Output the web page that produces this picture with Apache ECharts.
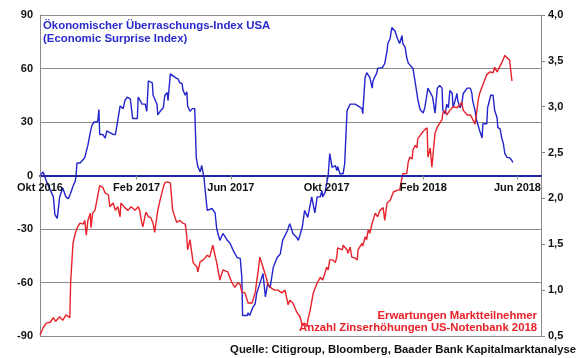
<!DOCTYPE html>
<html>
<head>
<meta charset="utf-8">
<script src="https://cdn.jsdelivr.net/npm/echarts@6/dist/echarts.min.js"></script>
<style>
html,body{margin:0;padding:0;background:#fff;}
#c{width:580px;height:358px;}
</style>
</head>
<body>
<div id="c"></div>
<script>
// Economic Surprise Index USA (left axis)
var surpriseDates = ['2016-10-02','2016-10-05','2016-10-09','2016-10-11','2016-10-14','2016-10-18','2016-10-20','2016-10-23','2016-10-24','2016-10-26','2016-10-30','2016-11-03','2016-11-06','2016-11-09','2016-11-12','2016-11-15','2016-11-16','2016-11-17','2016-11-21','2016-11-23','2016-11-27','2016-12-01','2016-12-04','2016-12-06','2016-12-09','2016-12-13','2016-12-14','2016-12-15','2016-12-16','2016-12-20','2016-12-23','2016-12-25','2016-12-29','2017-01-02','2017-01-05','2017-01-07','2017-01-08','2017-01-11','2017-01-13','2017-01-15','2017-01-17','2017-01-20','2017-01-24','2017-01-26','2017-01-27','2017-02-02','2017-02-03','2017-02-05','2017-02-08','2017-02-12','2017-02-14','2017-02-16','2017-02-21','2017-02-22','2017-02-24','2017-02-27','2017-02-28','2017-03-03','2017-03-07','2017-03-09','2017-03-12','2017-03-13','2017-03-16','2017-03-18','2017-03-22','2017-03-26','2017-03-28','2017-03-31','2017-04-01','2017-04-04','2017-04-06','2017-04-07','2017-04-10','2017-04-13','2017-04-16','2017-04-18','2017-04-20','2017-04-23','2017-04-25','2017-04-27','2017-04-28','2017-04-29','2017-05-02','2017-05-03','2017-05-08','2017-05-12','2017-05-14','2017-05-18','2017-05-22','2017-05-27','2017-05-31','2017-06-04','2017-06-09','2017-06-13','2017-06-15','2017-06-16','2017-06-22','2017-06-23','2017-06-25','2017-06-29','2017-07-02','2017-07-04','2017-07-08','2017-07-12','2017-07-15','2017-07-18','2017-07-21','2017-07-25','2017-07-30','2017-08-03','2017-08-06','2017-08-12','2017-08-15','2017-08-18','2017-08-19','2017-08-24','2017-08-26','2017-08-31','2017-09-03','2017-09-07','2017-09-12','2017-09-16','2017-09-19','2017-09-23','2017-09-25','2017-09-26','2017-09-29','2017-10-01','2017-10-03','2017-10-05','2017-10-08','2017-10-12','2017-10-14','2017-10-15','2017-10-18','2017-10-22','2017-10-24','2017-10-27','2017-10-31','2017-11-06','2017-11-10','2017-11-15','2017-11-16','2017-11-19','2017-11-21','2017-11-25','2017-11-28','2017-11-29','2017-12-04','2017-12-05','2017-12-11','2017-12-14','2017-12-17','2017-12-18','2017-12-21','2017-12-23','2017-12-25','2017-12-27','2017-12-30','2018-01-02','2018-01-05','2018-01-06','2018-01-09','2018-01-11','2018-01-13','2018-01-15','2018-01-19','2018-01-22','2018-01-24','2018-01-25','2018-01-28','2018-02-01','2018-02-03','2018-02-06','2018-02-07','2018-02-10','2018-02-12','2018-02-13','2018-02-16','2018-02-19','2018-02-22','2018-02-25','2018-02-26','2018-03-01','2018-03-03','2018-03-05','2018-03-07','2018-03-10','2018-03-11','2018-03-13','2018-03-16','2018-03-17','2018-03-20','2018-03-22','2018-03-24','2018-03-29','2018-04-02','2018-04-04','2018-04-05','2018-04-08','2018-04-10','2018-04-12','2018-04-14','2018-04-17','2018-04-18','2018-04-23','2018-04-24','2018-04-28','2018-05-01','2018-05-03','2018-05-06','2018-05-07','2018-05-10','2018-05-12','2018-05-14','2018-05-16','2018-05-19','2018-05-22','2018-05-25','2018-05-26'];
var surpriseValues = [0.5,2,-3,-5,-8,-12,-22,-24,-23,-12,-7,-12,-13,-10,-6,-3,0,7,7,8,10,17,24,28,30,30,32,37,23,23,21,25,24,23,23,28,27,39,40,37.5,42,44,43,42,32,32,44,44,40,40,36,53,52,45,44,40,34,36,38,45,46.5,42,57,56,55,54,52,51.5,48,45,47,39,36,37.5,37.5,10,5,2,5.6,6.7,-1.7,-6.7,-19.6,-20.7,-18.5,-21,-29.7,-36.4,-32.5,-36,-38,-42,-46,-46.5,-57,-78.5,-78.5,-77,-78.5,-74,-72,-66,-60.5,-55,-68,-60.5,-63,-51.6,-46,-44,-36.4,-31,-27,-31,-32.5,-34.7,-36.4,-29,-19.6,-23.5,-12,-21,-12,-12,-8.4,-12,-9.5,-4.5,0,12.3,4.5,5.6,2.8,5,1,1,6.7,36.4,40,40,39,37.5,34.7,55,57.7,55,49,53,57.7,60,60.5,62.8,70,74,77,83,84,81,77,74,78.5,74,72,66,63,63,60,51.6,46,43,37,35,38,46,49,46.5,47,44,35,49,50.5,49,36.4,34.7,40,38,47.7,46,38,41,46,42,38,40,46,49,49,46,42,36.4,30.8,28,25,21,29,29,38,45,45,36.4,32.5,27,26,21,18,12.3,10,10,8.4,7.3];

// Expected number of Fed rate hikes in 2018 (right axis)
var hikeDates = ['2016-10-01','2016-10-05','2016-10-09','2016-10-14','2016-10-18','2016-10-21','2016-10-26','2016-10-30','2016-11-03','2016-11-08','2016-11-09','2016-11-12','2016-11-15','2016-11-18','2016-11-21','2016-11-25','2016-11-27','2016-11-29','2016-12-01','2016-12-04','2016-12-05','2016-12-07','2016-12-10','2016-12-11','2016-12-16','2016-12-20','2016-12-23','2016-12-27','2016-12-29','2017-01-02','2017-01-05','2017-01-08','2017-01-11','2017-01-12','2017-01-17','2017-01-19','2017-01-21','2017-01-25','2017-01-30','2017-02-03','2017-02-05','2017-02-07','2017-02-09','2017-02-12','2017-02-13','2017-02-16','2017-02-19','2017-02-22','2017-02-24','2017-02-26','2017-02-28','2017-03-04','2017-03-07','2017-03-09','2017-03-12','2017-03-16','2017-03-19','2017-03-24','2017-03-28','2017-04-01','2017-04-04','2017-04-06','2017-04-07','2017-04-10','2017-04-14','2017-04-19','2017-04-20','2017-04-23','2017-04-27','2017-05-02','2017-05-05','2017-05-09','2017-05-14','2017-05-18','2017-05-22','2017-05-28','2017-06-02','2017-06-06','2017-06-10','2017-06-13','2017-06-15','2017-06-19','2017-06-23','2017-06-28','2017-07-02','2017-07-06','2017-07-08','2017-07-12','2017-07-17','2017-07-18','2017-07-23','2017-07-27','2017-07-31','2017-08-05','2017-08-09','2017-08-13','2017-08-15','2017-08-19','2017-08-24','2017-08-28','2017-08-31','2017-09-03','2017-09-06','2017-09-07','2017-09-10','2017-09-14','2017-09-19','2017-09-20','2017-09-23','2017-09-26','2017-09-29','2017-10-01','2017-10-03','2017-10-05','2017-10-09','2017-10-12','2017-10-14','2017-10-15','2017-10-21','2017-10-22','2017-10-27','2017-10-28','2017-10-31','2017-11-02','2017-11-04','2017-11-06','2017-11-09','2017-11-10','2017-11-15','2017-11-16','2017-11-19','2017-11-21','2017-11-23','2017-11-25','2017-11-28','2017-12-02','2017-12-05','2017-12-08','2017-12-12','2017-12-14','2017-12-17','2017-12-21','2017-12-25','2017-12-30','2018-01-02','2018-01-06','2018-01-11','2018-01-13','2018-01-15','2018-01-18','2018-01-19','2018-01-22','2018-01-24','2018-01-25','2018-01-30','2018-02-03','2018-02-06','2018-02-07','2018-02-10','2018-02-12','2018-02-13','2018-02-16','2018-02-19','2018-02-22','2018-02-25','2018-02-26','2018-03-01','2018-03-03','2018-03-07','2018-03-11','2018-03-16','2018-03-20','2018-03-22','2018-03-24','2018-03-29','2018-04-02','2018-04-04','2018-04-08','2018-04-10','2018-04-12','2018-04-14','2018-04-18','2018-04-23','2018-04-27','2018-05-01','2018-05-03','2018-05-06','2018-05-07','2018-05-12','2018-05-16','2018-05-19','2018-05-20','2018-05-22','2018-05-25'];
var hikeValues = [0.51,0.59,0.64,0.65,0.70,0.66,0.71,0.67,0.73,0.70,1.08,1.51,1.62,1.69,1.73,1.72,1.76,1.60,1.76,1.84,1.68,1.84,1.87,1.85,2.14,2.12,2.06,2.04,1.91,1.95,1.87,1.91,1.80,1.95,1.90,1.92,1.87,1.91,1.87,1.91,1.87,1.76,1.69,1.82,1.85,1.80,1.79,1.73,1.63,1.75,1.87,2.02,2.12,2.17,2.18,2.17,1.87,1.74,1.76,1.73,1.72,1.58,1.44,1.55,1.30,1.25,1.20,1.31,1.33,1.38,1.36,1.49,1.30,1.11,1.22,1.20,1.09,1.03,1.08,1.06,0.98,0.97,0.86,0.86,0.97,1.22,1.36,1.25,1.11,1.06,1.02,1.00,1.00,0.97,1.00,0.84,0.89,0.86,0.76,0.71,0.62,0.64,0.60,0.67,0.78,0.97,1.08,1.06,1.14,1.11,1.19,1.25,1.22,1.33,1.33,1.30,1.36,1.46,1.44,1.49,1.44,1.40,1.47,1.36,1.38,1.35,1.33,1.44,1.51,1.48,1.58,1.55,1.66,1.62,1.73,1.84,1.80,1.87,1.90,1.76,1.95,1.98,2.07,2.09,2.09,2.27,2.27,2.40,2.45,2.43,2.53,2.58,2.55,2.65,2.71,2.75,2.77,2.45,2.55,2.34,2.34,2.71,2.78,2.82,2.86,2.93,2.96,2.91,2.96,3.00,2.99,3.02,3.05,2.96,2.91,2.91,2.88,2.81,2.93,3.07,3.15,3.24,3.35,3.38,3.37,3.43,3.38,3.40,3.48,3.56,3.53,3.54,3.51,3.28];

var xRange = ['2016-10-01', '2018-07-01'];
var xTickDates = ['2016-10-01','2017-02-01','2017-06-01','2017-10-01','2018-02-01','2018-06-01'];
var xTickLabels = ['Okt 2016','Feb 2017','Jun 2017','Okt 2017','Feb 2018','Jun 2018'];
var leftTicks = [-90, 90, 30];   // min, max, interval
var rightTicks = [0.5, 4.0, 0.5];

function ts(s) { return Date.UTC(+s.slice(0, 4), +s.slice(5, 7) - 1, +s.slice(8, 10)); }
function pairs(d, v) { return d.map(function (s, i) { return [ts(s), v[i]]; }); }
var tickTimes = xTickDates.map(ts);

var GRID = { left: 40, right: 39, top: 15, bottom: 22 };
var gridH = 358 - GRID.top - GRID.bottom;
// distance of the zero value above the grid bottom (derived from the axis range)
var zeroOffset = gridH * (0 - leftTicks[0]) / (leftTicks[1] - leftTicks[0]);

var FONT = '"Liberation Sans", Arial, sans-serif';
var chart = echarts.init(document.getElementById('c'), null, { renderer: 'canvas' });
chart.setOption({
  animation: false,
  backgroundColor: '#ffffff',
  grid: { left: GRID.left, right: GRID.right, top: GRID.top, bottom: GRID.bottom, containLabel: false },
  xAxis: {
    type: 'value',
    position: 'bottom',
    offset: -zeroOffset,
    min: ts(xRange[0]),
    max: ts(xRange[1]),
    z: 5,
    axisLine: { show: true, onZero: false, lineStyle: { color: '#2323a6', width: 2 } },
    axisTick: { show: true, customValues: tickTimes, length: 4, lineStyle: { color: '#888888', width: 1 } },
    axisLabel: {
      customValues: tickTimes,
      margin: 7,
      color: '#111111', fontWeight: 'bold', fontSize: 11, fontFamily: FONT,
      formatter: function (val) {
        var i = tickTimes.indexOf(+val);
        return i >= 0 ? xTickLabels[i] : '';
      }
    },
    splitLine: { show: false }
  },
  yAxis: [{
    type: 'value',
    min: leftTicks[0], max: leftTicks[1], interval: leftTicks[2],
    position: 'left',
    axisLine: { show: true, lineStyle: { color: '#8a8a8a', width: 1 } },
    axisTick: { show: false },
    axisLabel: { margin: 7, color: '#111111', fontWeight: 'bold', fontSize: 11, fontFamily: FONT },
    splitLine: { show: true, lineStyle: { color: '#8a8a8a', width: 1 } }
  }, {
    type: 'value',
    min: rightTicks[0], max: rightTicks[1], interval: rightTicks[2],
    position: 'right',
    axisLine: { show: true, lineStyle: { color: '#8a8a8a', width: 1 } },
    axisTick: { show: true, length: 4, lineStyle: { color: '#8a8a8a' } },
    axisLabel: {
      margin: 7, color: '#111111', fontWeight: 'bold', fontSize: 11, fontFamily: FONT,
      formatter: function (v) { return v.toFixed(1).replace('.', ','); }
    },
    splitLine: { show: false }
  }],
  series: [{
    name: 'Ökonomischer Überraschungs-Index USA',
    type: 'line', yAxisIndex: 0, showSymbol: false, symbol: 'none',
    lineStyle: { color: '#2424cc', width: 1.4 },
    data: pairs(surpriseDates, surpriseValues)
  }, {
    name: 'Erwartungen Marktteilnehmer',
    type: 'line', yAxisIndex: 1, showSymbol: false, symbol: 'none',
    lineStyle: { color: '#e8222a', width: 1.4 },
    data: pairs(hikeDates, hikeValues)
  }],
  graphic: [{
    type: 'text', left: 43, top: 19,
    style: { text: 'Ökonomischer Überraschungs-Index USA\n(Economic Surprise Index)', fill: '#2a2acc', font: 'bold 11.4px ' + FONT, lineHeight: 13 }
  }, {
    type: 'text', right: 43, top: 310,
    style: { text: 'Erwartungen Marktteilnehmer', fill: '#e8222a', font: 'bold 11.3px ' + FONT }
  }, {
    type: 'text', right: 43, top: 322.5,
    style: { text: 'Anzahl Zinserhöhungen US-Notenbank 2018', fill: '#e8222a', font: 'bold 11.3px ' + FONT }
  }, {
    type: 'text', right: 4, top: 344,
    style: { text: 'Quelle: Citigroup, Bloomberg, Baader Bank Kapitalmarktanalyse', fill: '#111111', font: 'bold 11.3px ' + FONT }
  }]
});
</script>
</body>
</html>
